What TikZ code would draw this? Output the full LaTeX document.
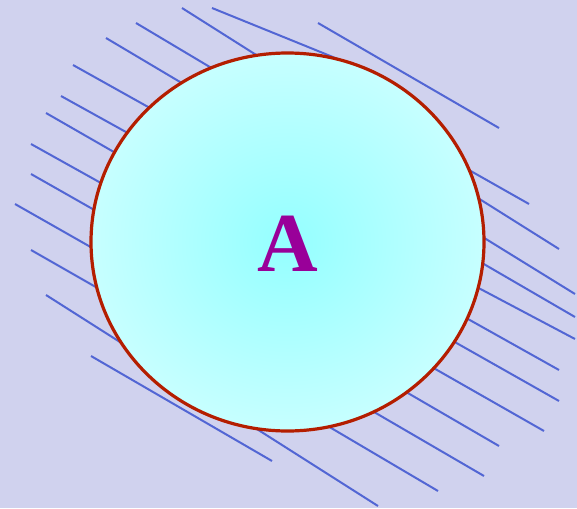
\documentclass[tikz,border=0pt]{standalone}
\usepackage{fontspec}
\setmainfont{Liberation Serif}
\definecolor{bgcol}{RGB}{208,210,238}
\definecolor{hatchcol}{RGB}{82,102,212}
\definecolor{rimcol}{RGB}{180,30,0}
\definecolor{lettercol}{RGB}{153,0,153}

\begin{document}
\begin{tikzpicture}[x=1pt,y=-1pt,
  hatch/.style={draw=hatchcol,line width=2pt},
  rim/.style={draw=rimcol,line width=3.2pt}]
\fill[bgcol] (0,0) rectangle (577,508);
\useasboundingbox (0,0) rectangle (577,508);
% hatching, upper left
\draw[hatch] (182,8) -- (280,70);
\draw[hatch] (212,8) -- (355,66);
\draw[hatch] (136,23) -- (235,82);
\draw[hatch] (106,38) -- (207,98);
\draw[hatch] (73,65) -- (175,122);
\draw[hatch] (61,96) -- (153,147);
\draw[hatch] (46,113) -- (140,167);
\draw[hatch] (31,144) -- (126,197);
\draw[hatch] (31,174) -- (119,224);
\draw[hatch] (15,204) -- (117,262);
\draw[hatch] (31,250) -- (122,302);
\draw[hatch] (46,295) -- (378,506);
\draw[hatch] (91,356) -- (272,461);
% hatching, right
\draw[hatch] (318,23) -- (499,128);
\draw[hatch] (446,157) -- (529,204);
\draw[hatch] (454,183) -- (559,249);
\draw[hatch] (460,223) -- (575,294);
\draw[hatch] (458,249) -- (575,317);
\draw[hatch] (454,275) -- (575,339);
\draw[hatch] (443,305) -- (559,370);
\draw[hatch] (430,328) -- (559,401);
\draw[hatch] (409,354) -- (544,431);
\draw[hatch] (382,378) -- (499,446);
\draw[hatch] (350,398) -- (484,476);
\draw[hatch] (304,412) -- (438,491);
% the set
\shade[inner color=cyan!42!white,outer color=cyan!22!white] (287.5,242) ellipse (196.5 and 189);
\draw[rim] (287.5,242) ellipse (196.5 and 189);
\node[text=lettercol,inner sep=0pt] (A) at (287.5,244) {\fontsize{84}{88}\selectfont\bfseries A};
\end{tikzpicture}
\end{document}
